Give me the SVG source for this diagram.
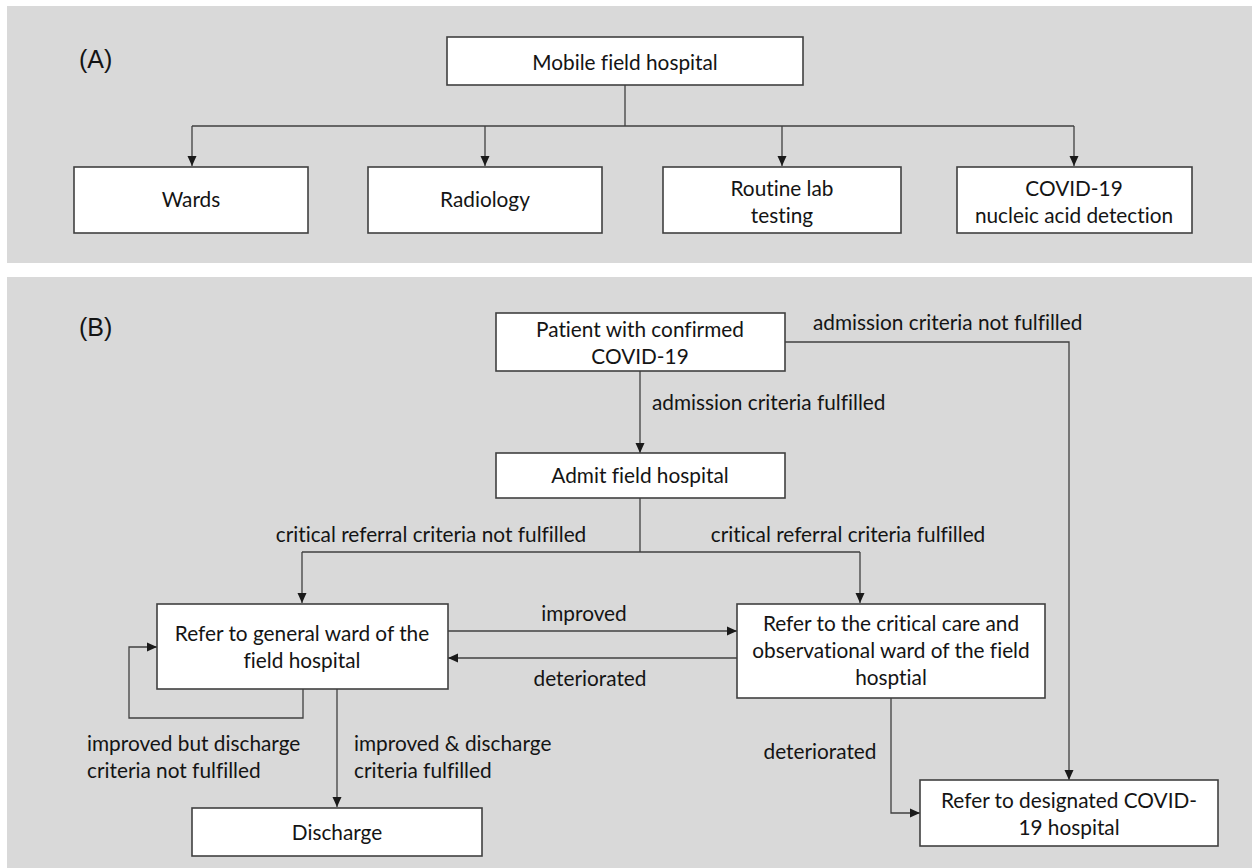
<svg xmlns="http://www.w3.org/2000/svg" width="1252" height="868" viewBox="0 0 1252 868">
<defs>
<marker id="ah" markerWidth="10" markerHeight="10" refX="10" refY="5" orient="auto" markerUnits="userSpaceOnUse">
<path d="M0,0.5 L10,5 L0,9.5 Z" fill="#1a1a1a"/>
</marker>
<style>
.panel{fill:#d9d9d9}
.box{fill:#fff;stroke:#404040;stroke-width:1.6}
.t{font-family:Lato,"Liberation Sans",sans-serif;font-size:20.8px;fill:#141414;font-variant-ligatures:none}
.c{text-anchor:middle}
.lbl{font-family:"Liberation Sans",Arial,sans-serif;font-size:25px;fill:#141414}
.ln{fill:none;stroke:#404040;stroke-width:1.3}
.ar{marker-end:url(#ah)}
</style>
</defs>
<rect class="panel" x="7" y="6" width="1245" height="257"/>
<rect class="panel" x="7" y="277" width="1245" height="591"/>
<text class="lbl" x="79" y="68">(A)</text>
<text class="lbl" x="79" y="336">(B)</text>

<g id="connectors">
<path class="ln" d="M625,85 V126 M192,126 H1074"/>
<path class="ln ar" d="M192,126 V166"/>
<path class="ln ar" d="M485,126 V166"/>
<path class="ln ar" d="M782,126 V166"/>
<path class="ln ar" d="M1074,126 V166"/>
<path class="ln ar" d="M640,371 V453"/>
<path class="ln ar" d="M785,342 H1069 V780"/>
<path class="ln" d="M640,498 V552 M302,552 H860"/>
<path class="ln ar" d="M302,552 V603"/>
<path class="ln ar" d="M860,552 V603"/>
<path class="ln ar" d="M448,631 H737"/>
<path class="ln ar" d="M737,658 H448"/>
<path class="ln ar" d="M303,689 V718 H129 V647 H157"/>
<path class="ln ar" d="M337,689 V807"/>
<path class="ln ar" d="M891,698 V813 H920"/>
<text class="t" x="813" y="330">admission criteria not fulfilled</text>
<text class="t" x="652" y="410">admission criteria fulfilled</text>
<text class="t c" x="431" y="542">critical referral criteria not fulfilled</text>
<text class="t c" x="848" y="542">critical referral criteria fulfilled</text>
<text class="t c" x="584" y="621">improved</text>
<text class="t c" x="590" y="686">deteriorated</text>
<text class="t" x="87" y="751">improved but discharge</text>
<text class="t" x="87" y="778">criteria not fulfilled</text>
<text class="t" x="354" y="751">improved &amp; discharge</text>
<text class="t" x="354" y="778">criteria fulfilled</text>
<text class="t c" x="820" y="759">deteriorated</text>
</g>

<g id="n-mobile"><rect class="box" x="447" y="37" width="356" height="48"/><text class="t c" x="625" y="70">Mobile field hospital</text></g>
<g id="n-wards"><rect class="box" x="74" y="167" width="234" height="66"/><text class="t c" x="191" y="207">Wards</text></g>
<g id="n-radiology"><rect class="box" x="368" y="167" width="234" height="66"/><text class="t c" x="485" y="207">Radiology</text></g>
<g id="n-lab"><rect class="box" x="663" y="167" width="238" height="66"/><text class="t c" x="782" y="196">Routine lab</text><text class="t c" x="782" y="223">testing</text></g>
<g id="n-covid"><rect class="box" x="957" y="167" width="235" height="66"/><text class="t c" x="1074" y="196">COVID-19</text><text class="t c" x="1074" y="223">nucleic acid detection</text></g>

<g id="n-patient"><rect class="box" x="496" y="313" width="289" height="58"/><text class="t c" x="640" y="337">Patient with confirmed</text><text class="t c" x="640" y="364">COVID-19</text></g>
<g id="n-admit"><rect class="box" x="496" y="453" width="289" height="45"/><text class="t c" x="640" y="483">Admit field hospital</text></g>
<g id="n-general"><rect class="box" x="157" y="604" width="291" height="85"/><text class="t c" x="302" y="641">Refer to general ward of the</text><text class="t c" x="302" y="668">field hospital</text></g>
<g id="n-critical"><rect class="box" x="737" y="604" width="308" height="94"/><text class="t c" x="891" y="631">Refer to the critical care and</text><text class="t c" x="891" y="658">observational ward of the field</text><text class="t c" x="891" y="685">hosptial</text></g>
<g id="n-discharge"><rect class="box" x="192" y="808" width="290" height="48"/><text class="t c" x="337" y="840">Discharge</text></g>
<g id="n-designated"><rect class="box" x="920" y="780" width="298" height="66"/><text class="t c" x="1069" y="808">Refer to designated COVID-</text><text class="t c" x="1069" y="835">19 hospital</text></g>
</svg>
